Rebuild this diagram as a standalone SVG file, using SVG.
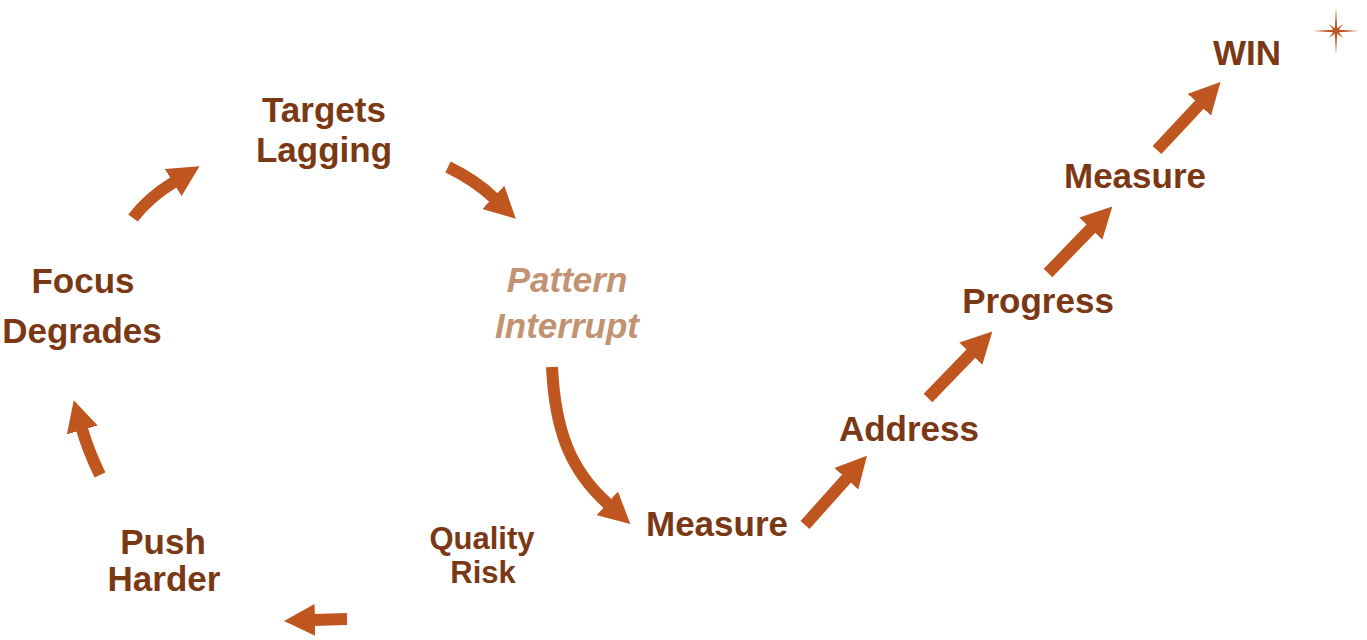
<svg xmlns="http://www.w3.org/2000/svg" width="1367" height="640" viewBox="0 0 1367 640">
<style>
.t{font-family:"Liberation Sans",Arial,sans-serif;font-weight:bold;font-size:35px;fill:#7b3814;text-anchor:middle}
.q{font-size:31px}
.p{font-style:italic;fill:#c29272}
.a{fill:none;stroke:#c0561f;stroke-width:12;marker-end:url(#h)}
</style>
<defs>
<marker id="h" markerUnits="userSpaceOnUse" viewBox="0 0 31 32" markerWidth="31" markerHeight="32" refX="1" refY="16" orient="auto">
<path d="M0,0 L31,16 L0,32 z" fill="#c0561f"/>
</marker>
</defs>
<rect width="1367" height="640" fill="#ffffff"/>
<g id="connectors">
<path class="a" d="M133,218 Q148,198 174,182"/>
<path class="a" d="M448,167 Q475,180 494,198"/>
<path class="a" d="M552,367 C555,430 570,470 608,504"/>
<path class="a" d="M805,525 L847,478"/>
<path class="a" d="M928,398 L971.5,353"/>
<path class="a" d="M1048,273 L1091.5,228"/>
<path class="a" d="M1157,150 L1200,104"/>
<path class="a" d="M100,475 Q88,450 82,429"/>
<path class="a" d="M347,619 L314,620"/>
</g>
<g id="targets"><text class="t" x="324" y="122">Targets</text><text class="t" x="324" y="162">Lagging</text></g>
<g id="pattern"><text class="t p" x="567" y="292">Pattern</text><text class="t p" x="567" y="338">Interrupt</text></g>
<g id="focus"><text class="t" x="83" y="293">Focus</text><text class="t" x="82" y="343">Degrades</text></g>
<g id="push"><text class="t" x="163" y="554">Push</text><text class="t" x="164" y="591">Harder</text></g>
<g id="quality"><text class="t q" x="482" y="549">Quality</text><text class="t q" x="483" y="583">Risk</text></g>
<g id="measure1"><text class="t" x="717" y="536">Measure</text></g>
<g id="address"><text class="t" x="909" y="441">Address</text></g>
<g id="progress"><text class="t" x="1038" y="313">Progress</text></g>
<g id="measure2"><text class="t" x="1135" y="188">Measure</text></g>
<g id="win"><text class="t" x="1247" y="65">WIN</text></g>
<g id="star"><polygon fill="#c0561f" points="1336,7 1337.15,28.2 1343.1,23.9 1338.8,29.85 1359,31 1338.8,32.15 1343.1,38.1 1337.15,33.8 1336,55 1334.85,33.8 1328.9,38.1 1333.2,32.15 1313,31 1333.2,29.85 1328.9,23.9 1334.85,28.2"/></g>
</svg>
